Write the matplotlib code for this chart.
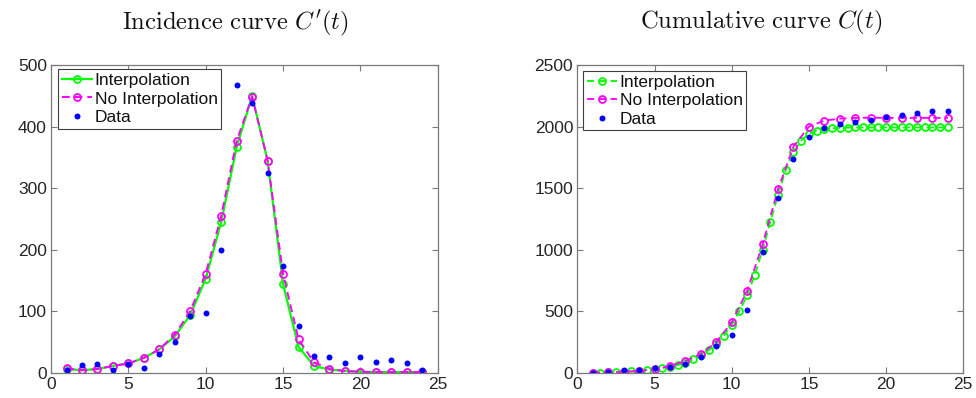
import numpy as np
import matplotlib
matplotlib.use('Agg')
import matplotlib.pyplot as plt

plt.rcParams['font.family'] = ['Liberation Sans', 'DejaVu Sans']
plt.rcParams['mathtext.fontset'] = 'cm'

# incidence per day
t = np.arange(1, 25)
inc_interp = [6, 4, 6, 11, 15, 24, 38, 59, 94, 153, 245, 367, 450, 345, 144, 42, 11, 5, 3, 1.5, 1, 1, 1, 1]
inc_nointerp = [7, 4, 6, 11, 15, 24, 38, 62, 100, 161, 255, 377, 449, 345, 161, 54, 17, 6, 2.5, 1.5, 1, 1, 1, 1]
inc_data = [5, 12, 14, 5, 14, 7, 30, 50, 93, 97, 199, 468, 438, 324, 174, 76, 27, 26, 16, 25, 17, 20, 15, 4]

# cumulative cases, interpolated fit is sampled every half day
t_half = np.arange(1, 24.5, 0.5)
cum_interp = [0, 1, 3, 4, 6, 10, 14, 21, 28, 37, 48, 62, 82, 108, 140, 182, 235,
              302, 390, 500, 628, 796, 1000, 1224, 1446, 1649, 1793, 1888, 1942,
              1969, 1982, 1988, 1991, 1993, 1994, 1994, 1994, 1994, 1994, 1994,
              1994, 1994, 1994, 1994, 1994, 1994, 1994]
cum_nointerp = [0, 3, 7, 14, 28, 54, 95, 152, 249, 410, 665, 1043, 1492, 1839,
                2001, 2050, 2066, 2072, 2074, 2072, 2072, 2072, 2072, 2072]
cum_data = [0, 5, 21, 21, 35, 43, 70, 125, 214, 308, 511, 978, 1419, 1741,
            1918, 1990, 2020, 2039, 2057, 2083, 2099, 2115, 2130, 2131]

green = '#00ff00'
magenta = '#ff00ff'
blue = '#0000ff'
frame = '#7a7a7a'
txt = '#262626'

fig = plt.figure(figsize=(9.76, 3.98), dpi=100)
ax1 = fig.add_axes([0.0523, 0.0636, 0.3962, 0.7724])
ax2 = fig.add_axes([0.5915, 0.0636, 0.3955, 0.7724])

# left: incidence
ax1.plot(t, inc_interp, '-', color=green, lw=1.6, marker='o', ms=5,
         mfc='none', mew=1.3, label='Interpolation')
ax1.plot(t, inc_nointerp, '--', color=magenta, lw=1.4, marker='o', ms=5,
         mfc='none', mew=1.3, dashes=(4, 2.5), label='No Interpolation')
ax1.plot(t, inc_data, 'o', color=blue, ms=4.3, mew=0, label='Data')
ax1.set_ylim(0, 500)
ax1.set_yticks(range(0, 501, 100))

# right: cumulative
ax2.plot(t_half, cum_interp, '--', color=green, lw=1.3, marker='o', ms=5,
         mfc='none', mew=1.3, dashes=(4, 2.5), label='Interpolation')
ax2.plot(t, cum_nointerp, '--', color=magenta, lw=1.3, marker='o', ms=5,
         mfc='none', mew=1.3, dashes=(4, 2.5), label='No Interpolation')
ax2.plot(t, cum_data, 'o', color=blue, ms=4.3, mew=0, label='Data')
ax2.set_ylim(0, 2500)
ax2.set_yticks(range(0, 2501, 500))

titles = [r"$\mathrm{Incidence\ curve}\ C'(t)$", r"$\mathrm{Cumulative\ curve}\ C(t)$"]
legend_pos = [(0.019, 0.987), (0.015, 0.981)]
for ax, ttl, pos in zip([ax1, ax2], titles, legend_pos):
    ax.set_xlim(0, 25)
    ax.set_xticks(range(0, 26, 5))
    ax.tick_params(direction='in', top=True, right=True, length=4, width=0.8,
                   color=frame, labelcolor=txt, labelsize=12.5, pad=3)
    for s in ax.spines.values():
        s.set_color(frame)
        s.set_linewidth(0.9)
    ax.text(0.476, 1.138, ttl, transform=ax.transAxes, ha='center', va='center',
            fontsize=17.7, color='#111111')
    leg = ax.legend(loc='upper left', bbox_to_anchor=pos, fontsize=12.5,
                    handlelength=1.75, handletextpad=0.15, borderpad=0.2,
                    labelspacing=0.2, borderaxespad=0, fancybox=False,
                    framealpha=1)
    leg.get_frame().set_edgecolor('#404040')
    leg.get_frame().set_linewidth(0.8)
    for tx in leg.get_texts():
        tx.set_color('#111111')

fig.savefig('out.png', dpi=100)
